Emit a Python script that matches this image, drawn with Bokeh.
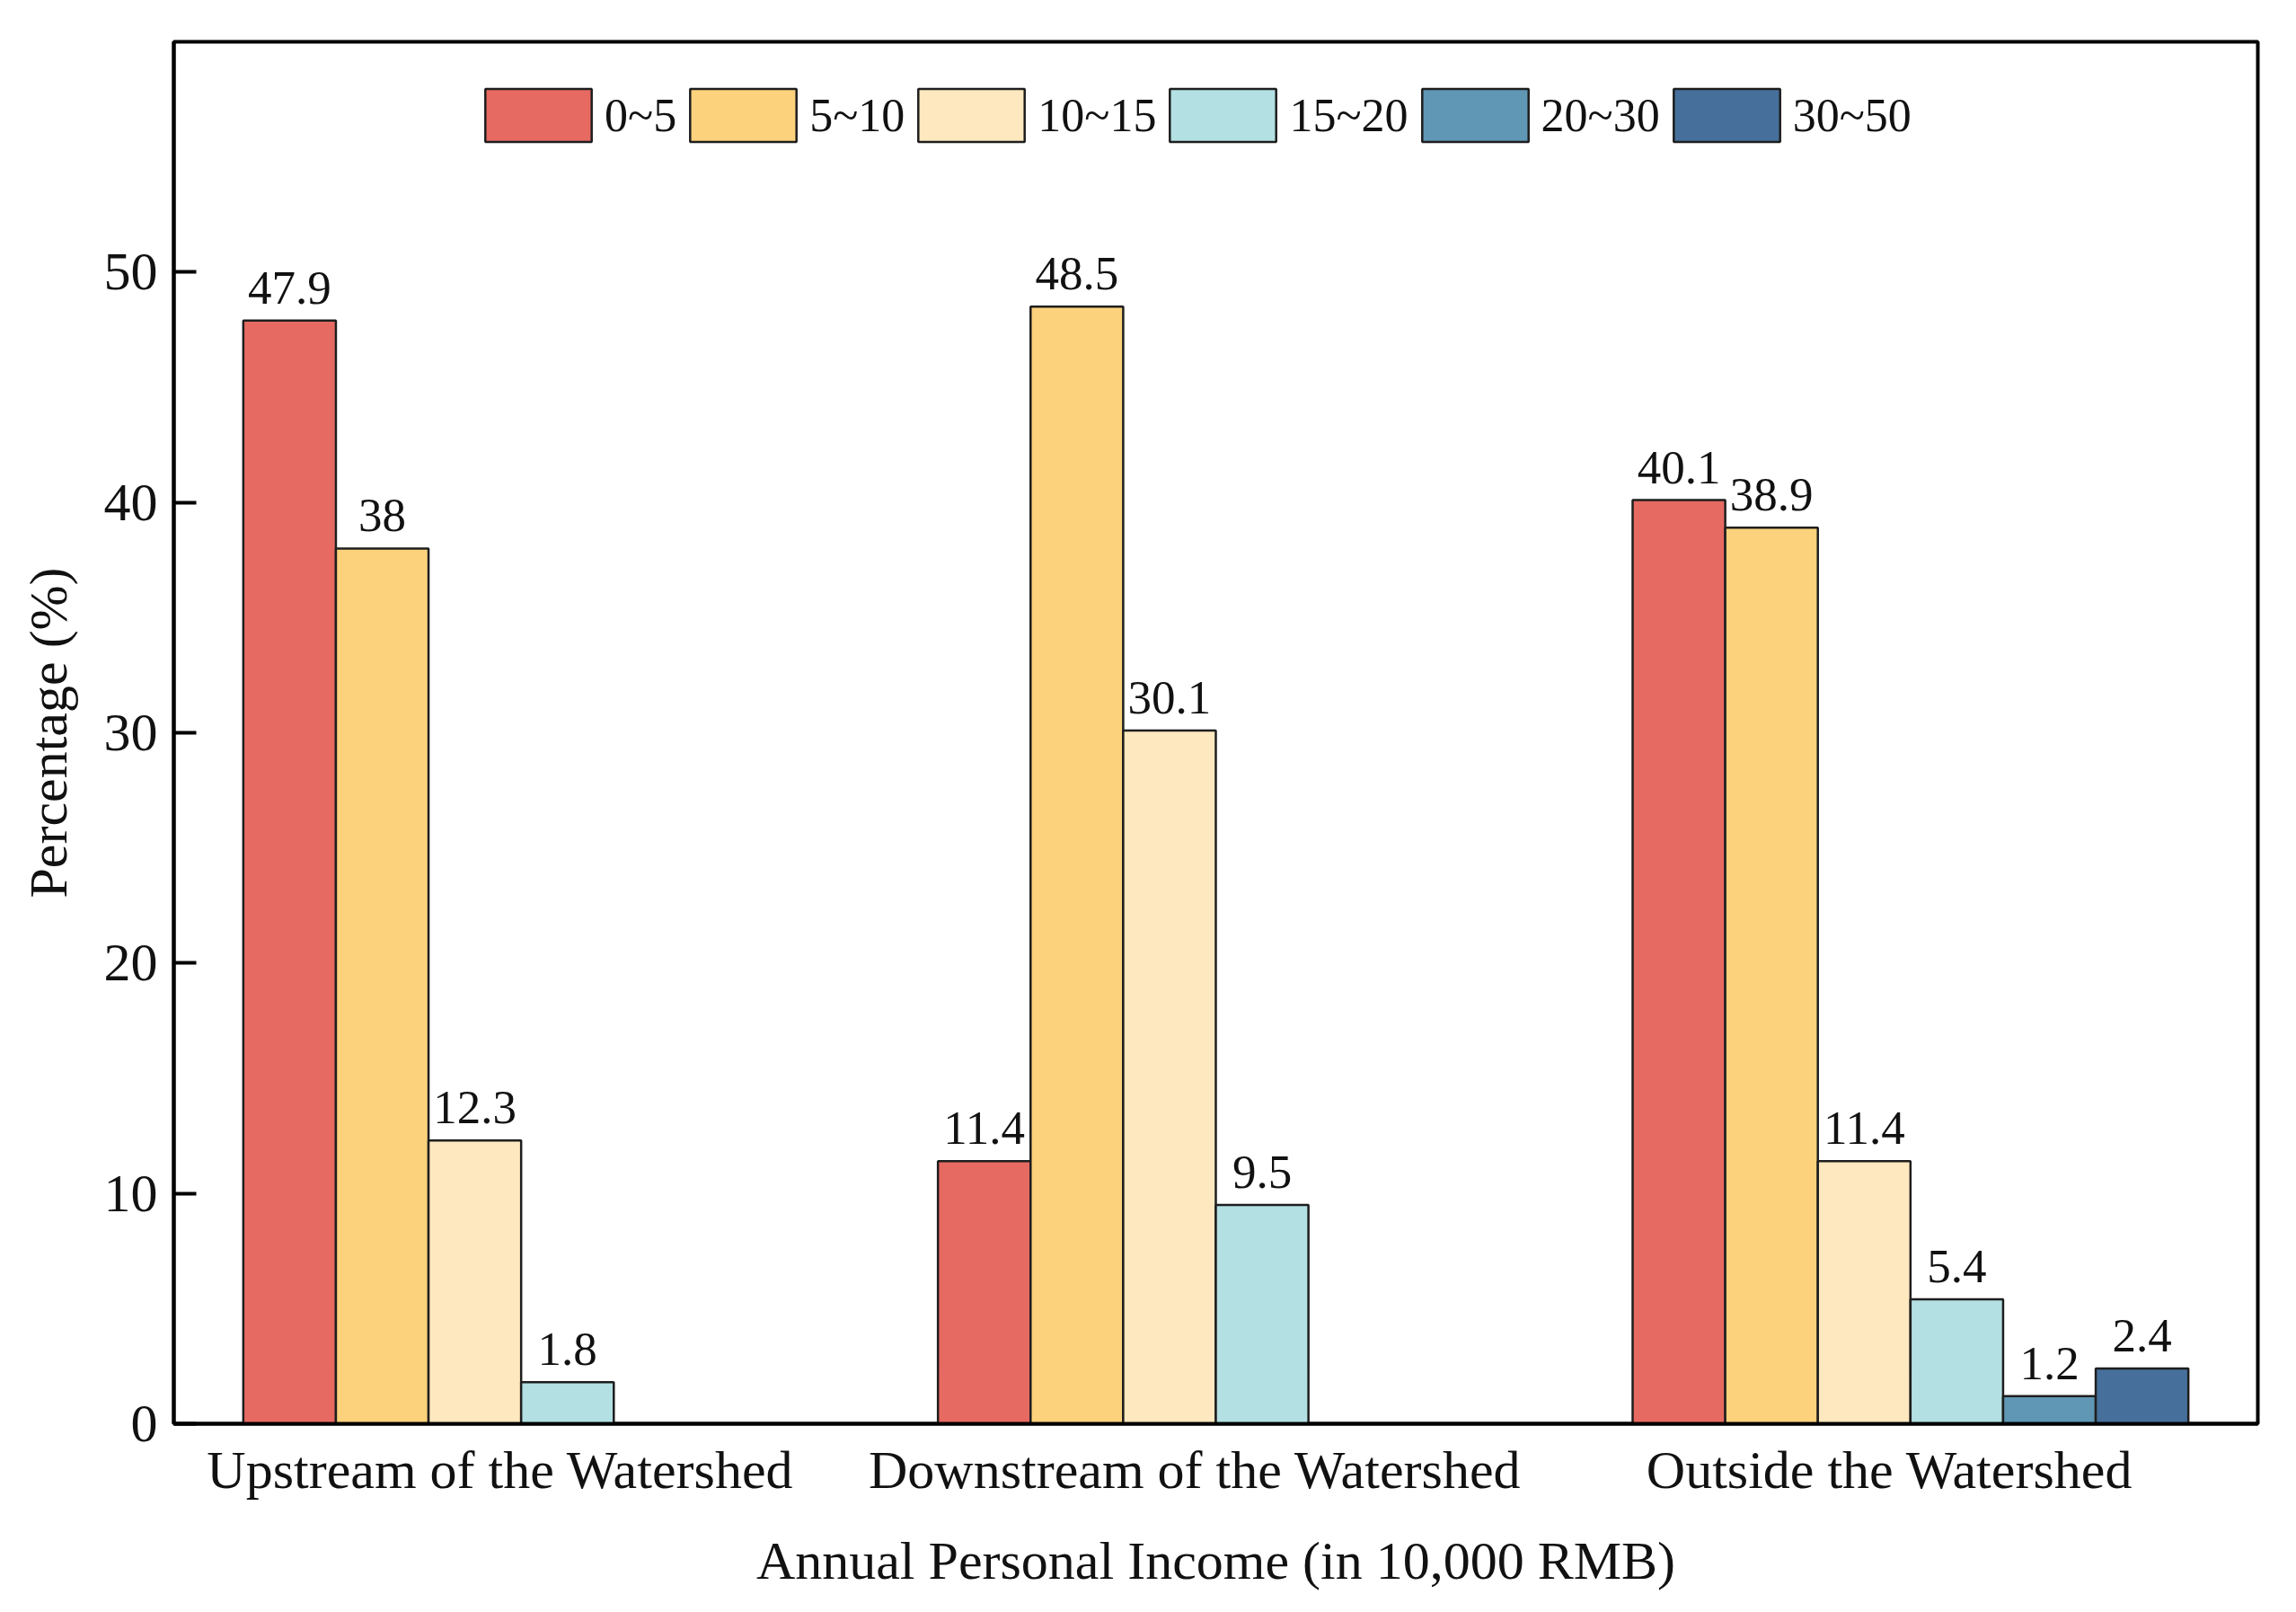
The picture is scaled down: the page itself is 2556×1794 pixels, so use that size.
from bokeh.plotting import figure
from bokeh.models import ColumnDataSource, FixedTicker, Range1d
from bokeh.core.properties import value
from bokeh.embed import file_html
from bokeh.resources import INLINE

# ---- data ----
regions = ["Upstream of the Watershed", "Downstream of the Watershed", "Outside the Watershed"]
income_groups = ["0~5", "5~10", "10~15", "15~20", "20~30", "30~50"]
pct_0_5 = [47.9, 11.4, 40.1]
pct_5_10 = [38, 48.5, 38.9]
pct_10_15 = [12.3, 30.1, 11.4]
pct_15_20 = [1.8, 9.5, 5.4]
pct_20_30 = [0, 0, 1.2]
pct_30_50 = [0, 0, 2.4]
y_ticks = [0, 10, 20, 30, 40, 50]

series = [pct_0_5, pct_5_10, pct_10_15, pct_15_20, pct_20_30, pct_30_50]
colors = ["#E76A62", "#FDD27C", "#FEE8BF", "#B3E0E3", "#5F97B4", "#46709B"]

FONT = value("Liberation Serif")
BAR_W = 0.8 / 6
LABEL_SHIFT = 0.03
TXT = "#111111"

p = figure(width=2540, height=1778, x_range=Range1d(0, 3), y_range=Range1d(0, 60),
           output_backend="svg", toolbar_location=None,
           min_border_left=193, min_border_right=27, min_border_top=46, min_border_bottom=194)

p.background_fill_color = "white"
p.border_fill_color = "white"
p.outline_line_color = "black"
p.outline_line_width = 4
p.xgrid.visible = False
p.ygrid.visible = False

for i, (vals, name, col) in enumerate(zip(series, income_groups, colors)):
    xs, ys, labels = [], [], []
    for g, v in enumerate(vals):
        if v > 0:
            xs.append(g + 0.5 + (i - 2.5) * BAR_W)
            ys.append(v)
            labels.append(f"{v:g}")
    src = ColumnDataSource(dict(x=xs, top=ys, label=labels))
    p.vbar(x="x", top="top", width=BAR_W, bottom=0, source=src, fill_color=col,
           line_color="#1e1e1e", line_width=2.5, legend_label=name)
    p.text(x="x", y="top", text="label", source=src, text_align="center",
           text_baseline="bottom", y_offset=-19, text_font=FONT,
           text_font_size="53px", text_color=TXT)

# y axis
ya = p.yaxis[0]
ya.ticker = FixedTicker(ticks=y_ticks)
ya.axis_label = "Percentage (%)"
ya.axis_label_text_font = "Liberation Serif"
ya.axis_label_text_font_style = "normal"
ya.axis_label_text_font_size = "60px"
ya.axis_label_text_color = TXT
ya.axis_label_standoff = 26
ya.major_label_text_font = "Liberation Serif"
ya.major_label_text_font_size = "60px"
ya.major_label_text_color = TXT
ya.major_label_standoff = 18
ya.major_tick_in = 25
ya.major_tick_out = 0
ya.minor_tick_in = 0
ya.minor_tick_out = 0
ya.major_tick_line_width = 4
ya.axis_line_width = 4
ya.axis_line_color = "black"
ya.major_tick_line_color = "black"

# x axis
xa = p.xaxis[0]
xa.ticker = FixedTicker(ticks=[g + 0.5 - LABEL_SHIFT for g in range(len(regions))])
xa.major_label_overrides = {g + 0.5 - LABEL_SHIFT: r for g, r in enumerate(regions)}
xa.axis_label = "Annual Personal Income (in 10,000 RMB)"
xa.axis_label_text_font = "Liberation Serif"
xa.axis_label_text_font_style = "normal"
xa.axis_label_text_font_size = "60px"
xa.axis_label_text_color = TXT
xa.axis_label_standoff = 32
xa.major_label_text_font = "Liberation Serif"
xa.major_label_text_font_size = "60px"
xa.major_label_text_color = TXT
xa.major_label_standoff = 18
xa.major_tick_in = 0
xa.major_tick_out = 0
xa.minor_tick_in = 0
xa.minor_tick_out = 0
xa.axis_line_width = 4
xa.axis_line_color = "black"

# legend
lg = p.legend[0]
lg.orientation = "horizontal"
lg.location = (332, 1419)
lg.glyph_width = 148
lg.glyph_height = 74
lg.label_text_font = "Liberation Serif"
lg.label_text_font_size = "52px"
lg.label_text_color = TXT
lg.label_standoff = 0
lg.spacing = 0
lg.padding = 6
lg.margin = 0
lg.border_line_color = None
lg.background_fill_alpha = 0

open("out.html", "w").write(file_html(p, INLINE))
